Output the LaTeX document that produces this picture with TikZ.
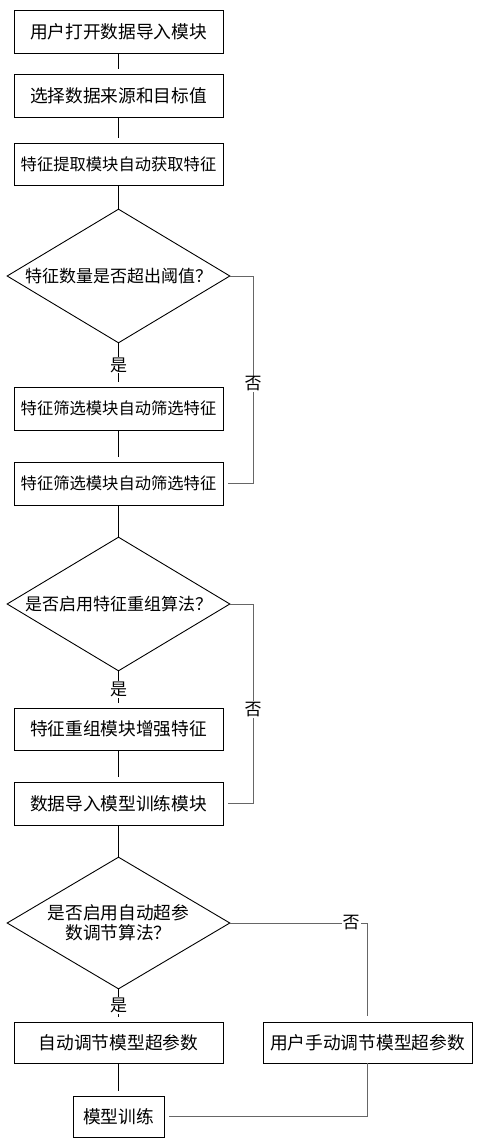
\documentclass[tikz,border=0pt]{standalone}
\usepackage{fontspec}
\newfontfamily\cjk{Noto Sans CJK SC}
\usetikzlibrary{shapes.geometric}
\begin{document}
\begin{tikzpicture}[x=1pt,y=-1pt,
  font=\cjk\fontsize{17}{24}\selectfont,
  box/.style={draw, line width=0.9pt, inner sep=0pt, minimum height=43pt, minimum width=209pt},
  dia/.style={draw, diamond, line width=0.9pt, inner sep=0pt, minimum width=223pt, minimum height=134pt},
  link/.style={line width=0.9pt},
  nolink/.style={line width=0.8pt, draw=black!60},
  lab/.style={fill=white, inner sep=1pt},
  small/.style={font=\cjk\fontsize{16.3}{20}\selectfont},
  wide/.style={font=\cjk\fontsize{17.7}{20}\selectfont}]
\useasboundingbox (0,0) rectangle (496,1145);

\node[box, wide] (b1) at (118.5,31.5) {用户打开数据导入模块};
\node[box, wide] (b2) at (118.5,95.5) {选择数据来源和目标值};
\node[box, small, minimum height=42pt] (b3) at (118.5,164) {特征提取模块自动获取特征};
\node[dia] (d1) at (118.5,276) {};
\node (t1) at (d1.center) {特征数量是否超出阈值？};
\node[box, small] (b4) at (118.5,408.5) {特征筛选模块自动筛选特征};
\node[box, small] (b5) at (118.5,483.5) {特征筛选模块自动筛选特征};
\node[dia] (d2) at (118.5,604) {};
\node (t2) at (d2.center) {是否启用特征重组算法？};
\node[box, wide, minimum height=42pt] (b6) at (118.5,729) {特征重组模块增强特征};
\node[box, wide] (b7) at (118.5,803.5) {数据导入模型训练模块};
\node[dia, minimum height=132pt] (d3) at (118.5,923) {};
\node[align=center, wide] (t3) at (d3.center) {是否启用自动超参\\数调节算法？};
\node[box, wide, minimum height=41pt] (b8) at (118.5,1042.5) {自动调节模型超参数};
\node[box, wide, minimum height=41pt] (b9) at (367.5,1042.5) {用户手动调节模型超参数};
\node[box, wide, minimum height=41pt, minimum width=91pt] (b10) at (118.5,1116.5) {模型训练};

\draw[link, shorten >=5pt] (b1) -- (b2);
\draw[link, shorten >=5pt] (b2) -- (b3);
\draw[link] (b3) -- (d1);
\draw[link, shorten >=5pt] (d1.south) -- (b4.north) node[lab, midway] (y1) {是};
\draw[link, shorten >=5pt] (b4) -- (b5);
\draw[nolink, shorten >=5pt] (d1.east) -- (253,276) |- (b5.east) node[lab, pos=0.26] (n1) {否};
\draw[link] (b5) -- (d2);
\draw[link, shorten >=5pt] (d2.south) -- (b6.north) node[lab, midway] (y2) {是};
\draw[link, shorten >=5pt] (b6) -- (b7);
\draw[nolink, shorten >=5pt] (d2.east) -- (253,604) |- (b7.east) node[lab, pos=0.265] (n2) {否};
\draw[link] (b7) -- (d3);
\draw[link, shorten >=5pt] (d3.south) -- (b8.north) node[lab, midway] (y3) {是};
\draw[link, shorten >=5pt] (b8) -- (b10);
\draw[nolink, shorten >=6pt] (d3.east) -| (b9.north) node[lab, pos=0.44] (n3) {否};
\draw[nolink, shorten >=5pt] (b9.south) |- (b10.east);
\end{tikzpicture}
\end{document}
